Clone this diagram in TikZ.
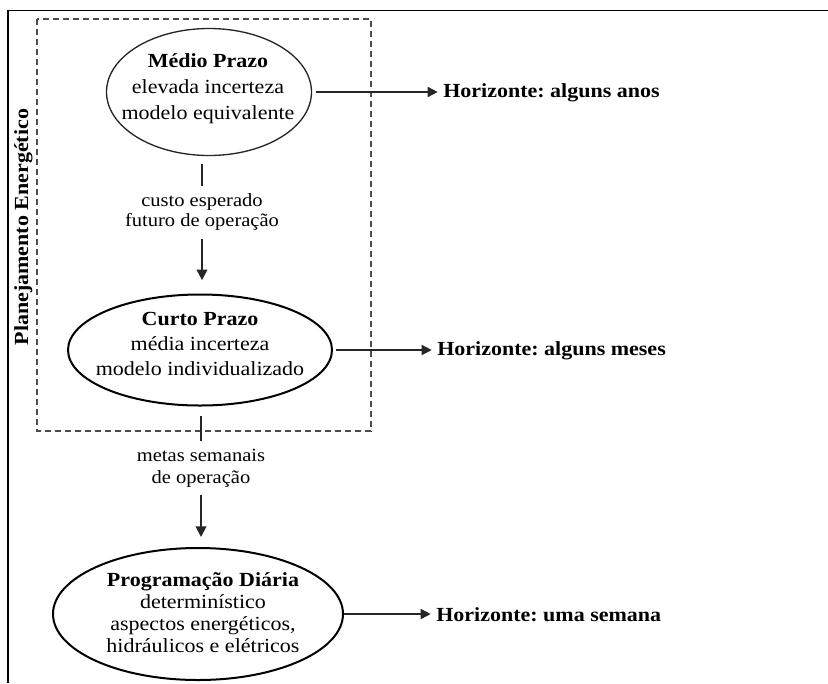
\documentclass[tikz,border=0pt]{standalone}
\usepackage{fontspec}
\setmainfont{Liberation Serif}[FakeStretch=1.1]
\usetikzlibrary{arrows.meta,shapes.geometric}
\frenchspacing

\begin{document}
\begin{tikzpicture}[x=0.75pt,y=-0.75pt,
  frameline/.style={line width=1.1pt,black},
  planbox/.style={draw=black!70,dashed,line width=0.9pt,dash pattern=on 4.5pt off 3pt},
  stage/.style={ellipse,draw=black,line width=1.5pt,inner sep=0pt},
  stagethin/.style={ellipse,draw=black!85,line width=1pt,inner sep=0pt},
  stagetext/.style={align=center,inner sep=0pt,font=\fontsize{15}{#1}\selectfont},
  flowlabel/.style={align=center,inner xsep=0pt,inner ysep=6pt,font=\fontsize{14}{#1}\selectfont},
  horizon/.style={anchor=base west,inner xsep=4pt,inner ysep=0pt,font=\fontsize{15}{18}\selectfont\bfseries},
  link/.style={draw=black!85,line width=1.4pt},
  flowarrow/.style={link,-{Triangle[length=8pt,width=8pt]}},
  sidearrow/.style={draw=black!85,line width=1.1pt,-{Triangle[length=7.5pt,width=7.5pt]}}
]
\useasboundingbox (0,0) rectangle (828,683);

% outer frame (top and left edges)
\draw[frameline] (8,683) -- (8,10.5) -- (828,10.5);

% energy planning region
\draw[planbox] (37,19) rectangle (371,431);
\node[rotate=90,inner sep=0pt,font=\fontsize{15}{18}\selectfont\bfseries] (plan) at (23.5,227) {Planejamento Energético};

% planning stages
\node[stagethin,minimum width=153.75pt,minimum height=95.25pt] (m) at (209,92) {};
\node[stagetext=19.5] (mt) at (208,89) {\textbf{Médio Prazo}\\elevada incerteza\\modelo equivalente};

\node[stage,minimum width=198pt,minimum height=83.25pt] (c) at (200,350) {};
\node[stagetext=18.4] (ct) at (200,344) {\textbf{Curto Prazo}\\média incerteza\\modelo individualizado};

\node[stage,minimum width=217.5pt,minimum height=99pt] (p) at (198,614) {};
\node[stagetext=16.5] (pt) at (203,613) {\textbf{Programação Diária}\\determinístico\\aspectos energéticos,\\hidráulicos e elétricos};

% information passed between stages
\node[flowlabel=15] (lab1) at (202,212.5) {custo esperado\\futuro de operação};
\node[flowlabel=16.2] (lab2) at (201,468) {metas semanais\\de operação};

\draw[link,shorten <=5.6pt] (m.south -| lab1.north) -- (lab1.north);
\draw[flowarrow,shorten >=10pt] (lab1.south) -- (lab1.south |- c.north);
\draw[link,shorten <=7pt] (c.south -| lab2.north) -- (lab2.north);
\draw[flowarrow,shorten >=7.5pt] (lab2.south) -- (lab2.south |- p.north);

% planning horizons
\node[horizon] (h1) at (437.7,97.7) {Horizonte: alguns anos};
\node[horizon] (h2) at (431.7,355) {Horizonte: alguns meses};
\node[horizon] (h3) at (430.7,621.7) {Horizonte: uma semana};

\draw[sidearrow,shorten <=2.6pt] (m.east) -- (m.east -| h1.west);
\draw[sidearrow,shorten <=2.2pt] (c.east) -- (c.east -| h2.west);
\draw[sidearrow] (p.east) -- (p.east -| h3.west);
\end{tikzpicture}
\end{document}
